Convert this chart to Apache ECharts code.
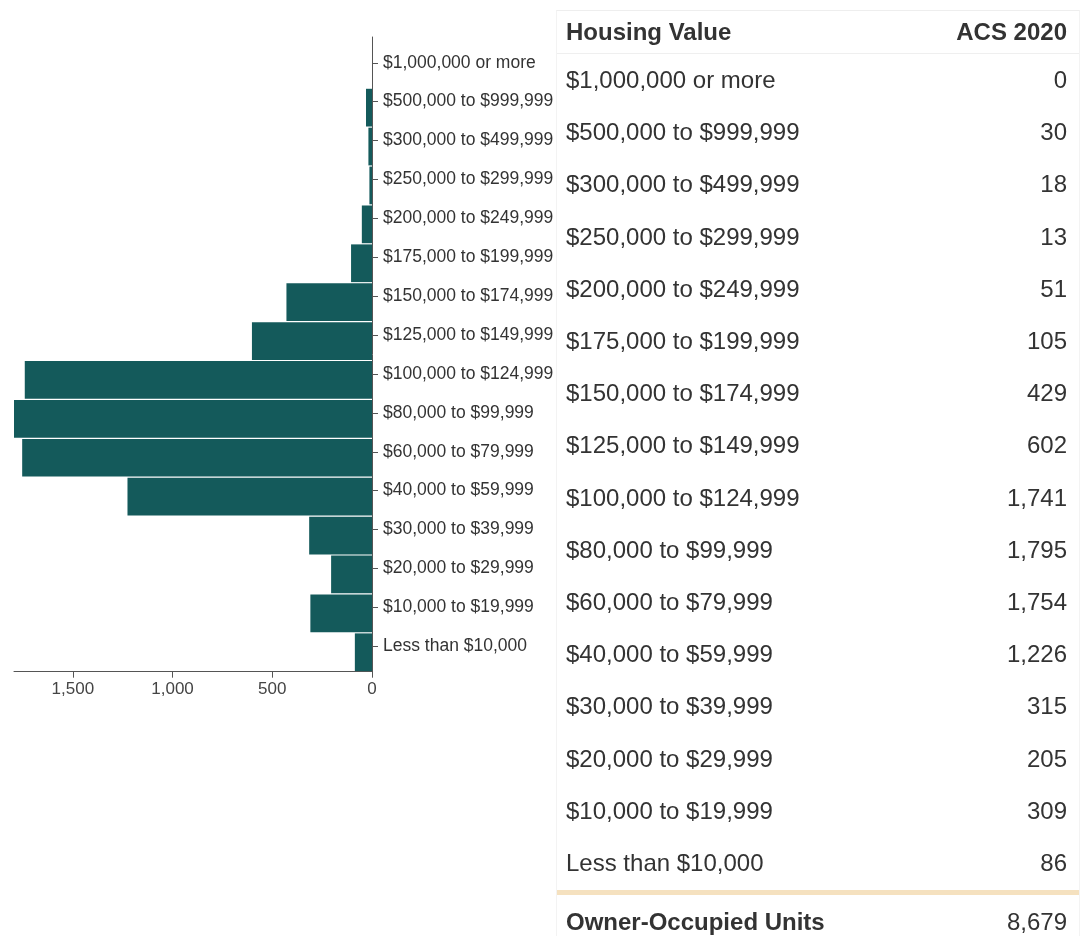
<!DOCTYPE html>
<html>
<head>
<meta charset="utf-8">
<script src="https://cdn.jsdelivr.net/npm/echarts@6/dist/echarts.min.js"></script>
<style>
  html, body { margin: 0; padding: 0; background: #fff; }
  #chart { position: absolute; left: 0; top: 0; width: 1086px; height: 936px; }
  #tbl {
    position: absolute; left: 556px; top: 10px; width: 524px; height: 926px;
    border-top: 1px solid #eeeeee; border-left: 1px solid #f3f3f3; border-right: 1px solid #f3f3f3;
    box-sizing: border-box; z-index: 2;
    font-family: 'Liberation Sans', Arial, sans-serif; font-size: 24px; color: #333;
  }
  .row {
    position: absolute; left: 0; right: 0; display: flex; align-items: center;
    justify-content: space-between; padding: 0 12px 0 9px; box-sizing: border-box;
  }
  .hdr { font-weight: bold; border-bottom: 1px solid #efefef; }
  .tot { font-weight: bold; }
  .tot span:last-child { font-weight: normal; }
  .divider { position: absolute; left: 0; right: 0; height: 5px; background: #f5e1bf; }
</style>
</head>
<body>
<div id="chart"></div>
<div id="tbl"></div>
<script>
  // categories top to bottom
  const categories = [
    '$1,000,000 or more',
    '$500,000 to $999,999',
    '$300,000 to $499,999',
    '$250,000 to $299,999',
    '$200,000 to $249,999',
    '$175,000 to $199,999',
    '$150,000 to $174,999',
    '$125,000 to $149,999',
    '$100,000 to $124,999',
    '$80,000 to $99,999',
    '$60,000 to $79,999',
    '$40,000 to $59,999',
    '$30,000 to $39,999',
    '$20,000 to $29,999',
    '$10,000 to $19,999',
    'Less than $10,000',
  ];
  const acs2020 = [0, 30, 18, 13, 51, 105, 429, 602, 1741, 1795, 1754, 1226, 315, 205, 309, 86];
  const xTicks = [0, 500, 1000, 1500];
  const xMax = 1795;
  const tableHeader = ['Housing Value', 'ACS 2020'];
  const totalLabel = 'Owner-Occupied Units';
  const totalUnits = 8679;

  const fmt = v => Number(v).toLocaleString('en-US');
  const font = "'Liberation Sans', Arial, sans-serif";
  const axisColor = '#555';

  // table
  const tbl = document.getElementById('tbl');
  let html = `<div class="row hdr" style="top:0;height:43px"><span>${tableHeader[0]}</span><span>${tableHeader[1]}</span></div>`;
  categories.forEach((c, i) => {
    html += `<div class="row" style="top:${43 + 52.2 * i}px;height:52.2px"><span>${c}</span><span>${fmt(acs2020[i])}</span></div>`;
  });
  html += '<div class="divider" style="top:879px"></div>';
  html += `<div class="row tot" style="top:885px;height:52px"><span>${totalLabel}</span><span>${fmt(totalUnits)}</span></div>`;
  tbl.innerHTML = html;

  const chart = echarts.init(document.getElementById('chart'), null, { renderer: 'canvas' });
  const gridRight = 1086 - 372;
  chart.setOption({
    animation: false,
    grid: [
      // bars
      { left: 14, right: gridRight, top: 49.3, bottom: 936 - 671.7, outerBoundsMode: 'none', containLabel: false },
      // category labels
      { left: 14, right: gridRight, top: 43.3, bottom: 936 - 665.7, outerBoundsMode: 'none', containLabel: false },
      // axis line
      { left: 14, right: gridRight, top: 37, bottom: 936 - 671.7, outerBoundsMode: 'none', containLabel: false },
    ],
    xAxis: [
      {
        gridIndex: 0,
        type: 'value',
        inverse: true,
        min: xTicks[0],
        max: xMax,
        interval: xTicks[1] - xTicks[0],
        axisLine: { show: true, lineStyle: { color: axisColor, width: 1 } },
        axisTick: { show: true, length: 6, lineStyle: { color: axisColor } },
        axisLabel: {
          show: true, margin: 9, fontSize: 17, color: '#444', fontFamily: font,
          showMaxLabel: false, formatter: v => fmt(v),
        },
        splitLine: { show: false },
      },
      { gridIndex: 1, type: 'value', show: false, min: 0, max: xMax, inverse: true },
      { gridIndex: 2, type: 'value', show: false, min: 0, max: xMax, inverse: true },
    ],
    yAxis: [
      { gridIndex: 0, type: 'category', data: categories, inverse: true, show: false },
      {
        gridIndex: 1,
        type: 'category',
        data: categories,
        inverse: true,
        position: 'right',
        axisLine: { show: false },
        axisTick: { show: true, alignWithLabel: true, length: 6, lineStyle: { color: axisColor } },
        axisLabel: { show: true, margin: 11, fontSize: 17.5, color: '#333', fontFamily: font },
        splitLine: { show: false },
      },
      {
        gridIndex: 2,
        type: 'value',
        min: 0,
        max: 1,
        position: 'right',
        axisLine: { show: true, lineStyle: { color: axisColor, width: 1 } },
        axisTick: { show: false },
        axisLabel: { show: false },
        splitLine: { show: false },
      },
    ],
    series: [
      {
        type: 'bar',
        xAxisIndex: 0,
        yAxisIndex: 0,
        data: acs2020,
        barCategoryGap: '3%',
        itemStyle: { color: '#145a5b' },
      },
    ],
  });
</script>
</body>
</html>
